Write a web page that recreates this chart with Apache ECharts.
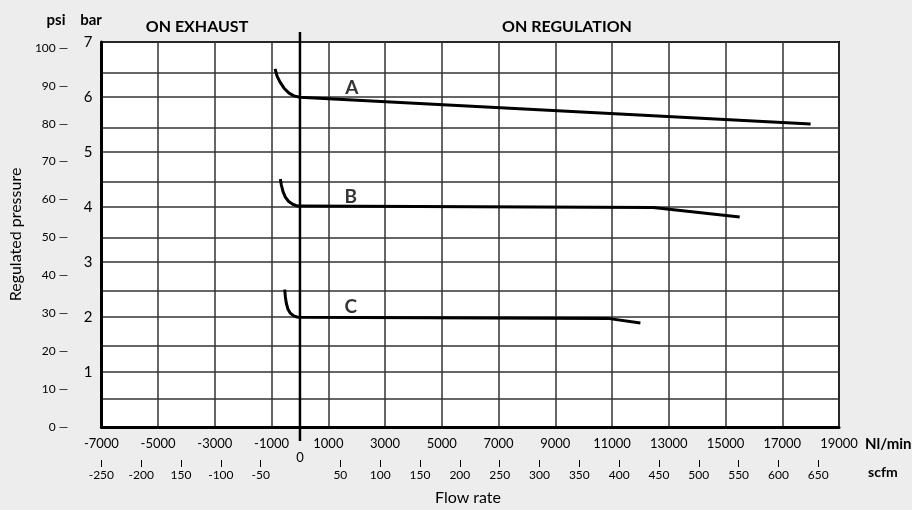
<!DOCTYPE html>
<html>
<head>
<meta charset="utf-8">
<script src="https://cdn.jsdelivr.net/npm/echarts@6/dist/echarts.min.js"></script>
<style>
  html, body { margin: 0; padding: 0; background: #ededed; }
  #chart { width: 912px; height: 510px; }
</style>
</head>
<body>
<div id="chart"></div>
<script>
// flow (Nl/min) vs regulated pressure (bar)
var curveNames = ['A', 'B', 'C'];
var curveA = [[-877, 6.51], [-807, 6.38], [-702, 6.27], [-561, 6.16], [-386, 6.07], [-211, 6.02], [0, 5.995], [18000, 5.51]];
var curveB = [[-691, 4.51], [-656, 4.40], [-597, 4.28], [-516, 4.18], [-397, 4.10], [-256, 4.05], [-105, 4.02], [0, 4.02], [12450, 3.99], [15500, 3.82]];
var curveC = [[-537, 2.50], [-516, 2.37], [-481, 2.25], [-421, 2.14], [-340, 2.07], [-221, 2.02], [-105, 2.00], [0, 1.995], [10850, 1.975], [12000, 1.89]];
var labelX = [1825, 1790, 1790];
var labelY = [6.16, 4.18, 2.18];
var zeroLine = [[0, -0.255], [0, 7.18]];

var nlTicks = [-7000, -5000, -3000, -1000, 1000, 3000, 5000, 7000, 9000, 11000, 13000, 15000, 17000, 19000];
var scfmTicks = [-250, -200, -150, -100, -50, 50, 100, 150, 200, 250, 300, 350, 400, 450, 500, 550, 600, 650];
var scfmLabels = ['-250', '-200', '150', '-100', '-50', '50', '100', '150', '200', '250', '300', '350', '400', '450', '500', '550', '600', '650'];
var barTicks = [1, 2, 3, 4, 5, 6, 7];
var barGrid = [0.51, 1, 1.47, 2, 2.47, 3, 3.45, 4, 4.45, 5, 5.44, 6, 6.44, 7];
var psiTicks = [0, 10, 20, 30, 40, 50, 60, 70, 80, 90, 100];
var barMax = 7;
var psiMax = barMax * 14.5038;

var font = 'Lato';
var chart = echarts.init(document.getElementById('chart'));

var curves = [curveA, curveB, curveC];
var series = curves.map(function (d, i) {
    return {
        name: curveNames[i],
        type: 'line',
        data: d,
        symbol: 'none',
        lineStyle: { color: '#000', width: 3 },
        z: 5
    };
});
series.push({
    type: 'line',
    data: zeroLine,
    symbol: 'none',
    clip: false,
    lineStyle: { color: '#000', width: 2.5 },
    z: 4
});
series.push({
    type: 'scatter',
    symbolSize: 0,
    data: curveNames.map(function (n, i) { return { name: n, value: [labelX[i], labelY[i]] }; }),
    label: {
        show: true,
        formatter: '{b}',
        position: 'inside',
        color: '#000',
        fontFamily: font,
        fontWeight: 'bold',
        fontSize: 19
    },
    z: 6
});

function plain(v) { return String(v); }

var option = {
    backgroundColor: '#ededed',
    animation: false,
    grid: {
        left: 98, right: 73, top: 42, bottom: 83,
        show: true,
        backgroundColor: '#fff',
        borderColor: '#000',
        borderWidth: 2
    },
    xAxis: [{
        type: 'value',
        min: -7000, max: 19000,
        position: 'bottom',
        axisLine: { onZero: false, lineStyle: { color: '#000', width: 3 } },
        axisTick: { show: false, customValues: nlTicks },
        axisLabel: { customValues: nlTicks, margin: 10, color: '#000', fontFamily: font, fontSize: 13, formatter: plain },
        splitLine: { show: true, lineStyle: { color: '#333', width: 1.5 } }
    }, {
        type: 'value',
        min: -7000, max: 19000,
        position: 'bottom',
        axisLine: { show: false },
        axisTick: { show: false },
        axisLabel: { customValues: [0], margin: 24, color: '#000', fontFamily: font, fontSize: 13, formatter: plain },
        splitLine: { show: false }
    }, {
        type: 'value',
        min: -250, max: 676,
        position: 'bottom',
        offset: 33,
        axisLine: { show: true, onZero: false, lineStyle: { color: '#000', opacity: 0 } },
        axisTick: { show: true, customValues: scfmTicks, length: 7, lineStyle: { color: '#000', width: 1 } },
        axisLabel: {
            customValues: scfmTicks, margin: 9, color: '#000', fontFamily: font, fontSize: 12,
            formatter: function (v) { return scfmLabels[scfmTicks.indexOf(v)]; }
        },
        splitLine: { show: false }
    }],
    yAxis: [{
        type: 'value',
        min: 0, max: barMax,
        position: 'left',
        axisLine: { show: true, onZero: false, lineStyle: { color: '#000', width: 3 } },
        axisTick: { show: false, customValues: barGrid },
        axisLabel: { customValues: barTicks, margin: 9, color: '#000', fontFamily: font, fontSize: 15 },
        splitLine: { show: true, lineStyle: { color: '#333', width: 1.5 } }
    }, {
        type: 'value',
        min: 0, max: psiMax,
        position: 'left',
        name: 'Regulated pressure',
        nameLocation: 'middle',
        nameGap: 76,
        nameTextStyle: { color: '#000', fontFamily: font, fontSize: 16 },
        axisLine: { show: false },
        axisTick: { show: false },
        axisLabel: {
            customValues: psiTicks, margin: 33, color: '#000', fontFamily: font, fontSize: 12,
            formatter: function (v) { return v + ' \u2014'; }
        },
        splitLine: { show: false }
    }],
    graphic: [
        { type: 'text', x: 56, y: 20, style: { text: 'psi', fill: '#000', font: 'bold 15px ' + font, textAlign: 'center', textVerticalAlign: 'middle' } },
        { type: 'text', x: 91, y: 20, style: { text: 'bar', fill: '#000', font: 'bold 15px ' + font, textAlign: 'center', textVerticalAlign: 'middle' } },
        { type: 'text', x: 197, y: 27, style: { text: 'ON EXHAUST', fill: '#000', font: 'bold 16px ' + font, textAlign: 'center', textVerticalAlign: 'middle' } },
        { type: 'text', x: 567, y: 27, style: { text: 'ON REGULATION', fill: '#000', font: 'bold 16px ' + font, textAlign: 'center', textVerticalAlign: 'middle' } },
        { type: 'text', x: 865, y: 444, style: { text: 'Nl/min', fill: '#000', font: 'bold 15px ' + font, textAlign: 'left', textVerticalAlign: 'middle' } },
        { type: 'text', x: 868, y: 472, style: { text: 'scfm', fill: '#000', font: 'bold 14px ' + font, textAlign: 'left', textVerticalAlign: 'middle' } },
        { type: 'text', x: 468, y: 498, style: { text: 'Flow rate', fill: '#000', font: '16px ' + font, textAlign: 'center', textVerticalAlign: 'middle' } }
    ],
    series: series.map(function (s) { s.xAxisIndex = 0; s.yAxisIndex = 0; return s; })
};

chart.setOption(option);
window.addEventListener('resize', function () { chart.resize(); });
</script>
</body>
</html>
